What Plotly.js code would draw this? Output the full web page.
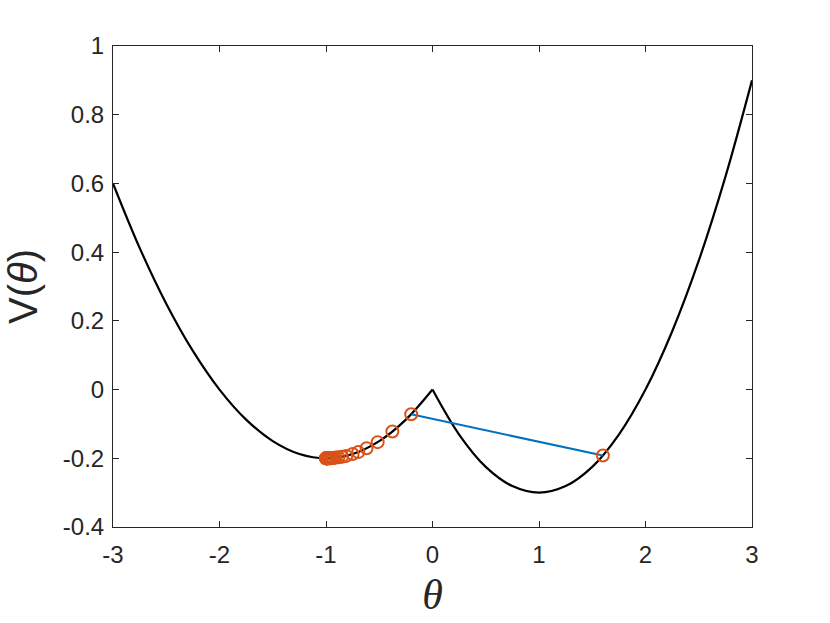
<!DOCTYPE html>
<html>
<head>
<meta charset="utf-8">
<script src="https://cdn.plot.ly/plotly-3.0.1.min.js"></script>
<style>
  html, body { margin: 0; padding: 0; background: #fff; }
  #chart { width: 830px; height: 623px; }
</style>
</head>
<body>
<div id="chart"></div>
<script>
// potential curve (left branch and right branch)
const thetaLeft = [-3, -2.75, -2.5, -2.25, -2, -1.75, -1.5, -1.25, -1, -0.75, -0.5, -0.25, 0];
const vLeft = [0.6, 0.4125, 0.25, 0.1125, 0, -0.0875, -0.15, -0.1875, -0.2, -0.1875, -0.15, -0.0875, 0];
const thetaRight = [0, 0.25, 0.5, 0.75, 1, 1.25, 1.5, 1.75, 2, 2.25, 2.5, 2.75, 3];
const vRight = [0, -0.131, -0.225, -0.281, -0.3, -0.281, -0.225, -0.131, 0, 0.169, 0.375, 0.619, 0.9];

// iterates (orange circles)
const iterTheta = [1.6, -0.2, -0.377, -0.515, -0.619, -0.697, -0.75, -0.81, -0.85, -0.883, -0.909,
  -0.929, -0.944, -0.957, -0.966, -0.974, -0.98, -0.984, -0.988, -0.99, -0.992, -0.994,
  -0.995, -0.996, -0.997, -0.998, -0.999, -1.0];
const iterV = [-0.192, -0.072, -0.122, -0.153, -0.171, -0.182, -0.1875, -0.193, -0.1955, -0.197, -0.198,
  -0.199, -0.1994, -0.1996, -0.1998, -0.1999, -0.2, -0.2, -0.2, -0.2, -0.2, -0.2,
  -0.2, -0.2, -0.2, -0.2, -0.2, -0.2];

// first jump (blue segment)
const jumpTheta = [-0.2, 1.6];
const jumpV = [-0.072, -0.192];

const xTicks = [-3, -2, -1, 0, 1, 2, 3];
const xTickText = ["-3", "-2", "-1", "0", "1", "2", "3"];
const yTicks = [-0.4, -0.2, 0, 0.2, 0.4, 0.6, 0.8, 1];
const yTickText = ["-0.4", "-0.2", "0", "0.2", "0.4", "0.6", "0.8", "1"];

const axisColor = "#262626";
const tickFont = { family: "Liberation Sans, Arial, sans-serif", size: 24, color: axisColor };

const traces = [
  { x: thetaLeft, y: vLeft, mode: "lines", line: { color: "#000", width: 2.2, shape: "spline" }, hoverinfo: "skip" },
  { x: thetaRight, y: vRight, mode: "lines", line: { color: "#000", width: 2.2, shape: "spline" }, hoverinfo: "skip" },
  { x: jumpTheta, y: jumpV, mode: "lines", line: { color: "#0072BD", width: 2 } },
  {
    x: iterTheta, y: iterV, mode: "markers",
    marker: { symbol: "circle-open", size: 12, color: "#D95319", line: { width: 2, color: "#D95319" } },
  },
];

const layout = {
  width: 830,
  height: 623,
  paper_bgcolor: "#fff",
  plot_bgcolor: "#fff",
  showlegend: false,
  margin: { l: 113, r: 78, t: 46, b: 96 },
  xaxis: {
    range: [-3, 3],
    tickvals: xTicks,
    ticktext: xTickText,
    ticks: "inside",
    ticklen: 6,
    tickcolor: axisColor,
    mirror: "allticks",
    showline: true,
    linecolor: axisColor,
    linewidth: 1,
    showgrid: false,
    zeroline: false,
    tickfont: tickFont,
    ticklabelstandoff: 6,
    title: { text: "<i>θ</i>", font: { family: "Liberation Serif, Times New Roman, serif", size: 42, color: axisColor }, standoff: 12 },
  },
  yaxis: {
    range: [-0.4, 1],
    tickvals: yTicks,
    ticktext: yTickText,
    ticks: "inside",
    ticklen: 6,
    tickcolor: axisColor,
    mirror: "allticks",
    showline: true,
    linecolor: axisColor,
    linewidth: 1,
    showgrid: false,
    zeroline: false,
    tickfont: tickFont,
    ticklabelstandoff: 3,
    title: { text: "V(<i>θ</i>)", font: { family: "Liberation Sans, Arial, sans-serif", size: 40, color: axisColor }, standoff: 12 },
  },
};

Plotly.newPlot("chart", traces, layout, { displayModeBar: false, staticPlot: true });
</script>
</body>
</html>
